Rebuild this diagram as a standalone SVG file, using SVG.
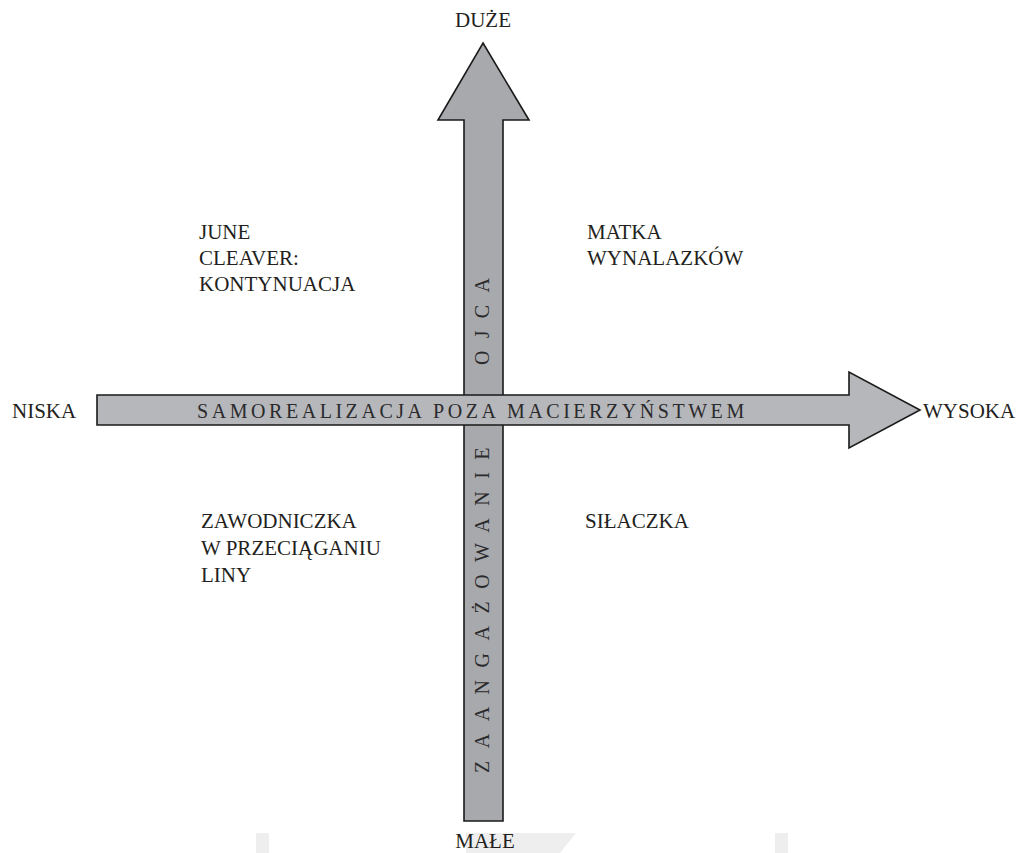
<svg xmlns="http://www.w3.org/2000/svg" width="1022" height="853" viewBox="0 0 1022 853">
<style>
  .lbl { font-family: "Liberation Serif", "Times New Roman", serif; font-size: 21px; fill: #231f20; }
  .axt { font-family: "Liberation Serif", "Times New Roman", serif; font-size: 20px; fill: #2a2a2c; }
  .arrow { stroke: #1a1a1a; stroke-width: 1.6; stroke-linejoin: miter; }
  .wm { fill: #eeeeee; }
</style>
<rect width="1022" height="853" fill="#ffffff"/>
<g id="watermark">
  <rect class="wm" x="256" y="833" width="13" height="20"/>
  <polygon class="wm" points="466,833 576,833 560,853 466,853"/>
  <rect class="wm" x="775" y="833" width="13" height="20"/>
</g>
<g id="connectors">
  <polygon id="axis-vertical" class="arrow" fill="#a8a9ac" points="483,43 529,120 503,120 503,821 464,821 464,120 438,120"/>
  <polygon id="axis-horizontal" class="arrow" fill="#b6b7ba" points="97,395 849,395 849,372 920,410 849,448 849,425 97,425"/>
</g>
<g id="axis-labels">
  <text class="axt" x="197" y="418" letter-spacing="3.55">SAMOREALIZACJA POZA MACIERZYŃSTWEM</text>
  <text class="axt" transform="translate(489,773) rotate(-90)" letter-spacing="12.5">ZAANGAŻOWANIE</text>
  <text class="axt" transform="translate(489,365) rotate(-90)" letter-spacing="12.3">OJCA</text>
</g>
<g id="node-duze"><text class="lbl" x="483" y="27" text-anchor="middle">DUŻE</text></g>
<g id="node-male"><text class="lbl" x="485" y="848" text-anchor="middle">MAŁE</text></g>
<g id="node-niska"><text class="lbl" x="12" y="418">NISKA</text></g>
<g id="node-wysoka"><text class="lbl" x="923" y="418">WYSOKA</text></g>
<g id="node-june">
  <text class="lbl" x="199" y="239">JUNE</text>
  <text class="lbl" x="199" y="265">CLEAVER:</text>
  <text class="lbl" x="199" y="291">KONTYNUACJA</text>
</g>
<g id="node-matka">
  <text class="lbl" x="587" y="239">MATKA</text>
  <text class="lbl" x="587" y="265">WYNALAZKÓW</text>
</g>
<g id="node-zawodniczka">
  <text class="lbl" x="201" y="528">ZAWODNICZKA</text>
  <text class="lbl" x="201" y="555">W PRZECIĄGANIU</text>
  <text class="lbl" x="201" y="582">LINY</text>
</g>
<g id="node-silaczka"><text class="lbl" x="585" y="528">SIŁACZKA</text></g>
</svg>
